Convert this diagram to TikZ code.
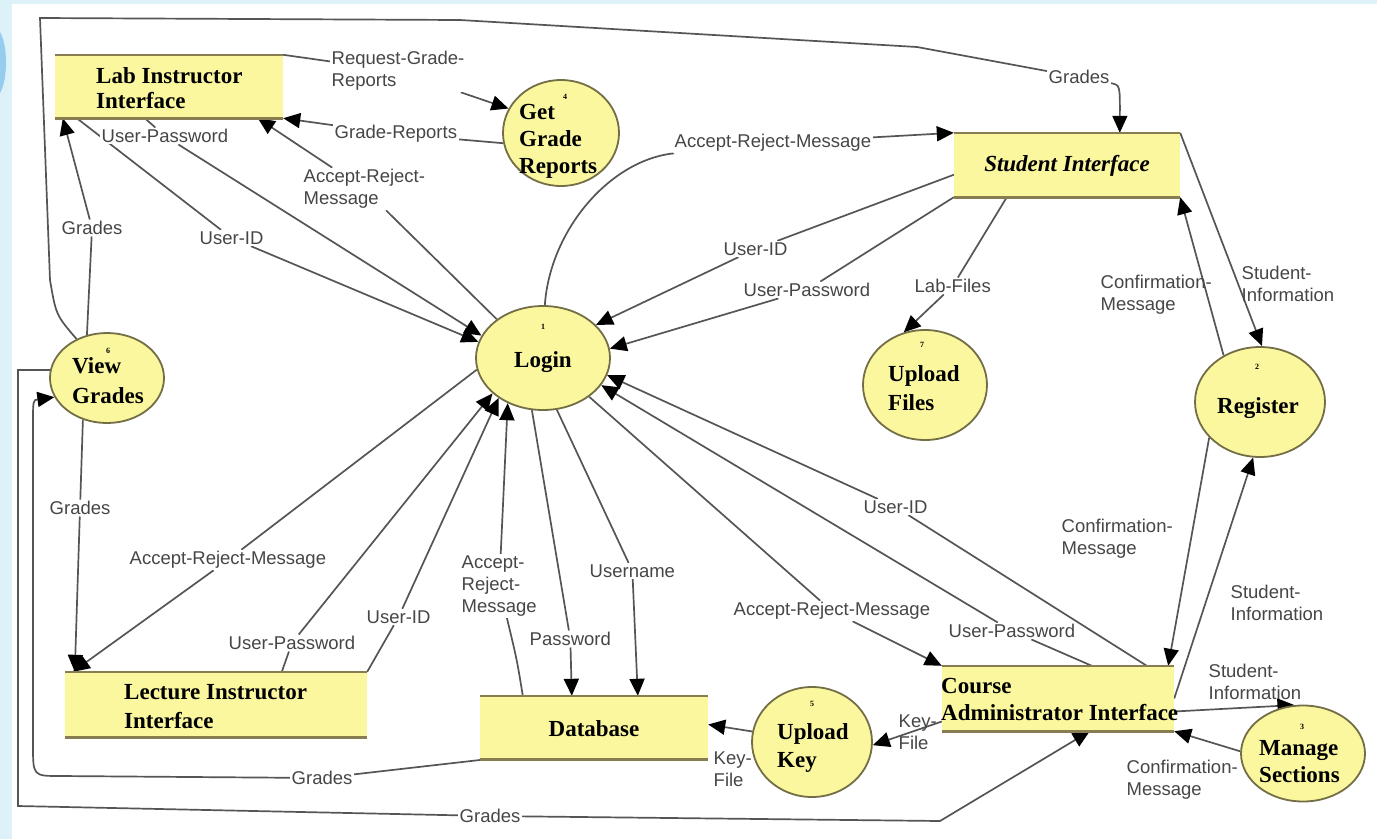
\documentclass[tikz,border=0pt]{standalone}
\usepackage{fontspec}
\setmainfont{Liberation Serif}
\setsansfont{Liberation Sans}
\usetikzlibrary{arrows.meta,shapes.geometric,backgrounds}
\definecolor{bgblue}{RGB}{221,241,249}
\definecolor{markblue}{RGB}{150,205,238}
\definecolor{yfill}{RGB}{250,247,158}
\definecolor{boxline}{RGB}{135,125,80}
\definecolor{ellline}{RGB}{115,110,70}
\definecolor{wirecol}{RGB}{85,85,85}
\definecolor{lbltext}{RGB}{70,70,70}
\tikzset{
  store/.style={fill=yfill, inner sep=0pt},
  storeline/.style={draw=boxline, line width=2.6pt},
  proc/.style={ellipse, draw=ellline, line width=1.8pt, fill=yfill, inner sep=0pt},
  ptext/.style={font=\fontsize{23}{27}\selectfont\bfseries, align=left, inner sep=0pt, text=black},
  pnum/.style={font=\fontsize{8}{8}\selectfont\bfseries, inner sep=0pt},
  lbl/.style={font=\sffamily\fontsize{18.5}{22}\selectfont, text=lbltext, fill=white, inner sep=1.5pt, align=left, anchor=west},
  lblx/.style={lbl, fill=none},
  flow/.style={draw=wirecol, line width=1.7pt, -{Triangle[length=17pt,width=15pt,color=black]}},
}
\begin{document}
\begin{tikzpicture}[x=1pt,y=-1pt]
\useasboundingbox (0,0) rectangle (1377,839);
\begin{pgfonlayer}{background}
\fill[bgblue] (0,0) rectangle (1377,839);
\fill[white] (12,4) rectangle (1377,839);
\fill[markblue] (0,32) .. controls (8,45) and (8,80) .. (0,93) -- cycle;
\end{pgfonlayer}

% data stores
\node[store, minimum width=228pt, minimum height=63pt] (lab) at (169,86.5) {};
\node[store, minimum width=226pt, minimum height=64pt] (stud) at (1067,165) {};
\node[store, minimum width=302pt, minimum height=65pt] (lect) at (216,704.5) {};
\node[store, minimum width=228pt, minimum height=63pt] (db) at (594,727.5) {};
\node[store, minimum width=232pt, minimum height=65pt] (course) at (1058,698.5) {};
\foreach \n in {lab,stud,lect,db,course}{
  \draw[storeline] (\n.north west) -- (\n.north east);
  \draw[storeline] (\n.south west) -- (\n.south east);
}
% processes
\node[proc, minimum width=116pt, minimum height=106pt] (get) at (561,133) {};
\node[proc, minimum width=134pt, minimum height=104pt] (login) at (543,358) {};
\node[proc, minimum width=114pt, minimum height=90pt] (view) at (107,378) {};
\node[proc, minimum width=124pt, minimum height=110pt] (upf) at (925,385) {};
\node[proc, minimum width=130pt, minimum height=110pt] (reg) at (1260,402) {};
\node[proc, minimum width=120pt, minimum height=110pt] (upk) at (812,742) {};
\node[proc, minimum width=124pt, minimum height=96pt] (man) at (1303,753.5) {};

% texts of stores
\node[ptext, anchor=west, font=\fontsize{23}{25}\selectfont\bfseries] (labT) at (96,88) {Lab Instructor\\Interface};
\node[ptext, font=\fontsize{23}{27}\selectfont\bfseries\itshape] (studT) at (1067,166) {Student Interface};
\node[ptext, anchor=west, font=\fontsize{23}{29}\selectfont\bfseries] (lectT) at (124,707) {Lecture Instructor\\Interface};
\node[ptext] (dbT) at (594,729) {Database};
\node[ptext, anchor=west] (courseT) at (941,699) {Course\\Administrator Interface};
% texts of processes
\node[ptext, anchor=west] (getT) at (519,141) {Get\\Grade\\Reports};
\node[pnum] (getN) at (565,97) {4};
\node[ptext] (loginT) at (543,362) {Login};
\node[pnum] (loginN) at (543,327) {1};
\node[ptext, anchor=west, font=\fontsize{23}{30}\selectfont\bfseries] (viewT) at (72,381) {View\\Grades};
\node[pnum] (viewN) at (108,351) {6};
\node[ptext, anchor=west, font=\fontsize{23}{29}\selectfont\bfseries] (upfT) at (888,388) {Upload\\Files};
\node[pnum] (upfN) at (922,345) {7};
\node[ptext] (regT) at (1258,408) {Register};
\node[pnum] (regN) at (1257,367) {2};
\node[ptext, anchor=west, font=\fontsize{23}{28}\selectfont\bfseries] (upkT) at (777,748) {Upload\\Key};
\node[pnum] (upkN) at (812,704) {5};
\node[ptext, anchor=west] (manT) at (1259,762) {Manage\\Sections};
\node[pnum] (manN) at (1302,727) {3};

% flow labels
\node[lbl] (L1) at (330,71) {Request-Grade-\\Reports};
\node[lbl] (L2) at (333,134) {Grade-Reports};
\node[lbl] (L3) at (100,136) {User-Password};
\node[lbl] (L4) at (198,238) {User-ID};
\node[lbl] (L5) at (302,189) {Accept-Reject-\\Message};
\node[lbl] (L6) at (60,228) {Grades};
\node[lbl] (L7) at (673,143) {Accept-Reject-Message};
\node[lbl] (L8) at (722,249) {User-ID};
\node[lbl] (L9) at (742,290) {User-Password};
\node[lbl] (L10) at (913,286) {Lab-Files};
\node[lbl] (L11) at (1047,77) {Grades};
\node[lblx] (L12) at (1099,295) {Confirmation-\\Message};
\node[lblx] (L13) at (1240,284) {Student-\\Information};
\node[lblx] (L14) at (1060,539) {Confirmation-\\Message};
\node[lblx] (L15) at (1229,603) {Student-\\Information};
\node[lblx] (L16) at (1207,682) {Student-\\Information};
\node[lblx] (L17) at (1125,780) {Confirmation-\\Message};
\node[lblx] (L18) at (897,732) {Key-\\File};
\node[lblx] (L19) at (712,769) {Key-\\File};
\node[lbl] (L20) at (460,586) {Accept-\\Reject-\\Message};
\node[lbl] (L21) at (528,639) {Password};
\node[lbl] (L22) at (588,571) {Username};
\node[lbl] (L23) at (128,560) {Accept-Reject-Message};
\node[lbl] (L24) at (227,643) {User-Password};
\node[lbl] (L25) at (365,617) {User-ID};
\node[lbl] (L26) at (48,508) {Grades};
\node[lbl] (L27) at (290,778) {Grades};
\node[lbl] (L28) at (458,816) {Grades};
\node[lbl] (L29) at (732,611) {Accept-Reject-Message};
\node[lbl] (L30) at (947,631) {User-Password};
\node[lbl] (L31) at (862,507) {User-ID};

% bend points
\coordinate (tl) at (40,18);
\coordinate (tlb) at (50,280);
\coordinate (tm) at (460,20);
\coordinate (tr) at (917,47);
\coordinate (bl) at (18,806);
\coordinate (vl) at (18,370);
\coordinate (br) at (940,821);

\begin{pgfonlayer}{background}
\draw[flow] (lab.north east) -- (L1) -- (get.155);
\draw[flow] (get.190) -- (L2) -- (lab.south east);
\draw[flow] ([xshift=90pt]lab.south west) -- (L3) -- (login.160);
\draw[flow] ([xshift=22pt]lab.south west) -- (L4) -- (login.166);
\draw[flow] (login.140) -- (L5) -- ([xshift=203pt]lab.south west);
\draw[flow] (login.88) .. controls (550,230) and (610,160) .. (L7) -- (stud.north west);
\draw[flow] ([xshift=26pt]stud.west) -- (L8) -- (login.32);
\draw[flow] (stud.south west) -- (L9) -- (login.8);
\draw[flow] ([xshift=53pt]stud.south west) -- (L10) -- (upf.112);
\draw[flow] (stud.north east) -- (reg.88);
\draw[flow] (reg.128) -- (stud.south east);
\draw[flow] (reg.215) -- ([xshift=-6pt]course.north east);
\draw[flow] (course.east) -- (reg.263);
\draw[flow] ([yshift=-13pt]course.east) -- (man.100);
\draw[flow] (man.178) -- (course.south east);
\draw[flow] ([yshift=-23pt]course.west) -- (upk.357);
\draw[flow] (upk.170) -- ([yshift=3pt]db.east);
\draw[flow] (login.258) -- (L21) -- ([xshift=92pt]db.north west);
\draw[flow] (login.285) -- (L22) -- ([xshift=158pt]db.north west);
\draw[flow] ([xshift=43pt]db.north west) .. controls (517,660) .. (L20) -- (login.232);
\draw[flow] ([xshift=217pt]lect.north west) -- (L24) -- (login.215);
\draw[flow] (lect.north east) -- (L25) -- (login.222);
\draw[flow] (login.190) -- (L23) -- ([xshift=8pt]lect.north west);
\draw[flow] (view.240) -- (L26) -- ([xshift=10pt]lect.north west);
\draw[flow] (view.115) -- (L6) -- ([xshift=8pt]lab.south west);
\draw[flow] (view.128) .. controls (56,315) .. (tlb) -- (tl) -- (tm) -- (tr) -- (L11) .. controls (1120,85) .. ([xshift=166pt]stud.north west);
\draw[flow] ([xshift=7pt]db.south west) -- (L27) -- (60,776) .. controls (33,776) .. (33,745) -- (33,425) .. controls (33,400) .. (view.200);
\draw[flow] (view.172) -- (vl) -- (bl) -- (L28) -- (br) -- ([xshift=148pt]course.south west);
\draw[flow] (login.320) -- (L29) -- (course.north west);
\draw[flow] ([xshift=150pt]course.north west) -- (L30) -- (login.335);
\draw[flow] ([xshift=205pt]course.north west) -- (L31) -- (login.345);
\end{pgfonlayer}
\end{tikzpicture}
\end{document}
